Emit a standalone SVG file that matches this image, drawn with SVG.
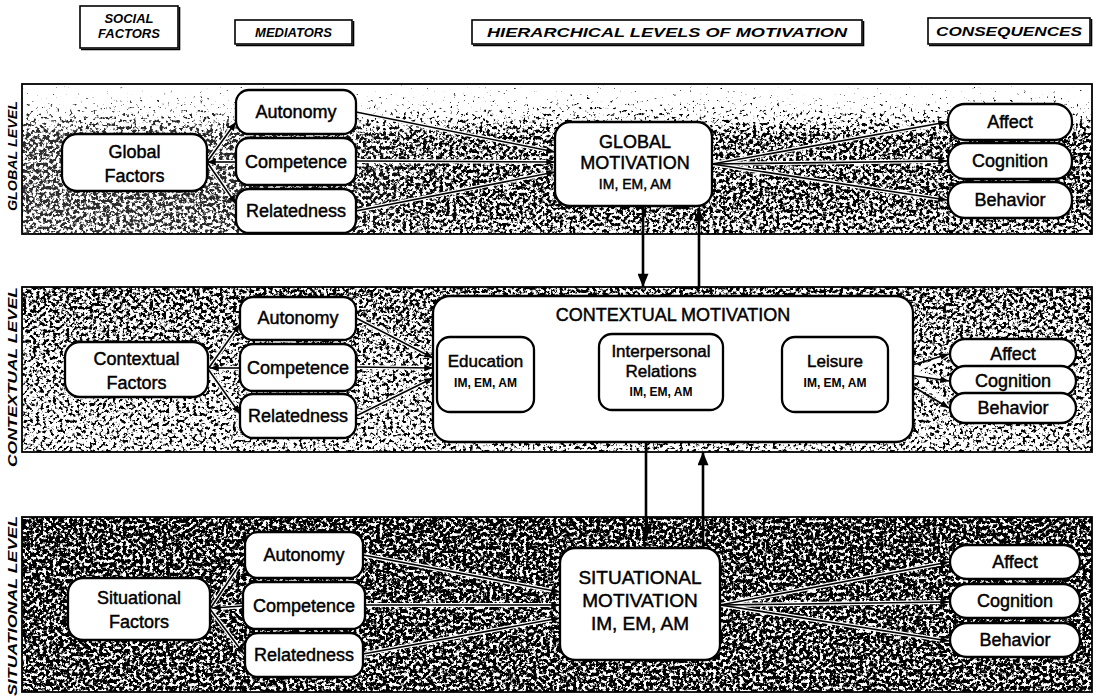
<svg xmlns="http://www.w3.org/2000/svg" width="1102" height="698" viewBox="0 0 1102 698">
  <defs>
    <style>
      .hdr { font-family: "Liberation Sans", Arial, sans-serif; font-weight: bold; font-style: italic; font-size: 13px; fill: #000; text-anchor: middle; }
      .lvl { font-family: "Liberation Sans", Arial, sans-serif; font-weight: bold; font-style: italic; font-size: 13px; fill: #000; text-anchor: middle; }
      .hbox { fill: #fff; stroke: #000; stroke-width: 1.6; }
      .band { fill: none; stroke: #000; stroke-width: 1.8; }
      .node { fill: #fff; stroke: #000; stroke-width: 2.3; }
      .lbl { font-family: "Liberation Sans", Arial, sans-serif; font-size: 18px; fill: #000; stroke: #000; stroke-width: 0.45; text-anchor: middle; }
      .big { font-family: "Liberation Sans", Arial, sans-serif; font-size: 18px; fill: #000; stroke: #000; stroke-width: 0.45; text-anchor: middle; }
      .sub { font-family: "Liberation Sans", Arial, sans-serif; font-weight: bold; font-size: 12px; fill: #000; text-anchor: middle; }
      .halo { fill: none; stroke: #fff; stroke-width: 4; stroke-linecap: round; }
      .ln { fill: none; stroke: #000; stroke-width: 1.6; }
      .thick { fill: none; stroke: #000; stroke-width: 2.6; }
      .dash { fill: none; stroke: #000; stroke-width: 1.6; stroke-dasharray: 4 3; }
    </style>
    <marker id="ah" viewBox="0 0 10 8" refX="10" refY="4" markerWidth="9" markerHeight="7" markerUnits="userSpaceOnUse" orient="auto-start-reverse">
      <path d="M0,0 L10,4 L0,8 z" fill="#000"/>
    </marker>
    <marker id="big" viewBox="0 0 12 10" refX="12" refY="5" markerWidth="14" markerHeight="11" markerUnits="userSpaceOnUse" orient="auto">
      <path d="M0,0 L12,5 L0,10 z" fill="#000"/>
    </marker>
    <!-- speckled halftone shading: density follows the alpha of the source shape -->
    <filter id="grain" filterUnits="userSpaceOnUse" x="0" y="0" width="1102" height="698" color-interpolation-filters="sRGB">
      <feTurbulence type="fractalNoise" baseFrequency="0.3" numOctaves="3" seed="11" result="noise"/>
      <feColorMatrix in="noise" type="matrix" values="0 0 0 0 0  0 0 0 0 0  0 0 0 0 0  1 0 0 0 0" result="na"/>
      <feComposite in="na" in2="SourceAlpha" operator="arithmetic" k1="0" k2="-8" k3="8" k4="0"/>
    </filter>
    <linearGradient id="gGlobal" x1="0" y1="84" x2="0" y2="234" gradientUnits="userSpaceOnUse">
      <stop offset="0" stop-color="#000" stop-opacity="0.22"/>
      <stop offset="0.12" stop-color="#000" stop-opacity="0.30"/>
      <stop offset="0.35" stop-color="#000" stop-opacity="0.56"/>
      <stop offset="0.8" stop-color="#000" stop-opacity="0.57"/>
      <stop offset="1" stop-color="#000" stop-opacity="0.52"/>
    </linearGradient>
    <linearGradient id="gCtx" x1="0" y1="287" x2="0" y2="452" gradientUnits="userSpaceOnUse">
      <stop offset="0" stop-color="#000" stop-opacity="0.56"/>
      <stop offset="0.5" stop-color="#000" stop-opacity="0.5"/>
      <stop offset="1" stop-color="#000" stop-opacity="0.47"/>
    </linearGradient>
    <linearGradient id="gSit" x1="0" y1="517" x2="0" y2="692" gradientUnits="userSpaceOnUse">
      <stop offset="0" stop-color="#000" stop-opacity="0.62"/>
      <stop offset="1" stop-color="#000" stop-opacity="0.6"/>
    </linearGradient>
    <linearGradient id="fadeLeft" x1="22" y1="0" x2="460" y2="0" gradientUnits="userSpaceOnUse">
      <stop offset="0" stop-color="#fff" stop-opacity="0.82"/>
      <stop offset="0.5" stop-color="#fff" stop-opacity="0.85"/>
      <stop offset="1" stop-color="#fff" stop-opacity="1"/>
    </linearGradient>
    <mask id="mGlobal" maskUnits="userSpaceOnUse" x="0" y="0" width="1102" height="698">
      <rect x="22" y="84" width="1070" height="150" fill="url(#fadeLeft)"/>
    </mask>
  </defs>

  <rect width="1102" height="698" fill="#fff"/>

  <!-- column headings -->
  <g id="headings">
    <rect class="hbox" x="80" y="6" width="98" height="42"/>
    <path d="M81,49.5 H179.5 V7" fill="none" stroke="#000" stroke-width="1.6"/>
    <text class="hdr" x="129" y="23">SOCIAL</text>
    <text class="hdr" x="129" y="38">FACTORS</text>

    <rect class="hbox" x="235" y="20" width="117" height="24"/>
    <path d="M236,45.5 H353.5 V21" fill="none" stroke="#000" stroke-width="1.6"/>
    <text class="hdr" x="293.5" y="37">MEDIATORS</text>

    <rect class="hbox" x="472" y="20" width="390" height="24"/>
    <path d="M473,45.5 H863.5 V21" fill="none" stroke="#000" stroke-width="1.6"/>
    <text class="hdr" x="667" y="37" textLength="360" lengthAdjust="spacingAndGlyphs">HIERARCHICAL LEVELS OF MOTIVATION</text>

    <rect class="hbox" x="928" y="18" width="162" height="26"/>
    <path d="M929,45.5 H1091.5 V19" fill="none" stroke="#000" stroke-width="1.6"/>
    <text class="hdr" x="1009" y="36" textLength="146" lengthAdjust="spacingAndGlyphs">CONSEQUENCES</text>
  </g>

  <!-- level bands with halftone shading -->
  <g id="bands">
    <rect x="22" y="84" width="1070" height="150" fill="url(#gGlobal)" mask="url(#mGlobal)" filter="url(#grain)"/>
    <rect x="22" y="287" width="1070" height="165" fill="url(#gCtx)" filter="url(#grain)"/>
    <rect x="22" y="517" width="1070" height="175" fill="url(#gSit)" filter="url(#grain)"/>
    <rect class="band" x="22" y="84" width="1070" height="150"/>
    <rect class="band" x="22" y="287" width="1070" height="165"/>
    <rect class="band" x="22" y="517" width="1070" height="175"/>
    <text class="lvl" transform="translate(17,156) rotate(-90)" textLength="110" lengthAdjust="spacingAndGlyphs">GLOBAL LEVEL</text>
    <text class="lvl" transform="translate(17,377) rotate(-90)" textLength="180" lengthAdjust="spacingAndGlyphs">CONTEXTUAL LEVEL</text>
    <text class="lvl" transform="translate(17,606) rotate(-90)" textLength="180" lengthAdjust="spacingAndGlyphs">SITUATIONAL LEVEL</text>
  </g>

  <!-- connectors -->
  <g id="connectors">
    <!-- global level -->
    <path class="halo" d="M207,162 L236,122 M207,162 L236,162 M207,162 L236,204 M356,112 L555,152 M356,161 L555,162 M356,211 L555,172 M712,164 L947,122 M712,164 L947,161 M712,164 L947,200"/>
    <path class="ln" d="M207,162 L236,122" marker-end="url(#ah)"/>
    <path class="ln" d="M236,162 L207,162" marker-end="url(#ah)"/>
    <path class="ln" d="M207,162 L236,204" marker-end="url(#ah)"/>
    <path class="ln" d="M356,112 L555,152" marker-end="url(#ah)"/>
    <path class="ln" d="M356,161 L555,162" marker-end="url(#ah)"/>
    <path class="ln" d="M356,211 L555,172" marker-end="url(#ah)"/>
    <path class="ln" d="M712,164 L947,122" marker-end="url(#ah)"/>
    <path class="ln" d="M712,164 L947,161" marker-end="url(#ah)"/>
    <path class="ln" d="M712,164 L947,200" marker-end="url(#ah)"/>

    <!-- contextual level -->
    <path class="halo" d="M208,369 L240,324 M208,369 L240,368 M208,369 L240,414 M356,318 L433,358 M356,367 L433,368 M356,416 L433,378 M913,372 L949,354 M913,372 L949,381 M913,372 L949,408"/>
    <path class="ln" d="M208,369 L240,324" marker-end="url(#ah)"/>
    <path class="ln" d="M240,368 L210,368" marker-end="url(#ah)"/>
    <path class="ln" d="M208,369 L240,414" marker-end="url(#ah)"/>
    <path class="ln" d="M356,318 L433,358" marker-end="url(#ah)"/>
    <path class="ln" d="M356,367 L433,368" marker-end="url(#ah)"/>
    <path class="ln" d="M356,416 L433,378" marker-end="url(#ah)"/>
    <path class="ln" d="M889,372 L949,354" marker-end="url(#ah)"/>
    <path class="ln" d="M889,372 L949,381" marker-end="url(#ah)"/>
    <path class="ln" d="M889,372 L949,408" marker-end="url(#ah)"/>
    <path class="dash" d="M535,372 L598,372" marker-start="url(#ah)" marker-end="url(#ah)"/>
    <path class="dash" d="M724,372 L781,372" marker-start="url(#ah)" marker-end="url(#ah)"/>
    <path class="ln" d="M490,412 V432 H836 V412" marker-start="url(#ah)" marker-end="url(#ah)"/>

    <!-- situational level -->
    <path class="halo" d="M210,609 L244,558 M210,609 L243,606 M210,609 L244,654 M363,555 L560,592 M365,605 L560,605 M363,654 L560,618 M720,605 L949,562 M720,605 L949,602 M720,605 L949,641"/>
    <path class="ln" d="M210,609 L244,558" marker-end="url(#ah)"/>
    <path class="ln" d="M243,606 L212,608" marker-end="url(#ah)"/>
    <path class="ln" d="M210,609 L244,654" marker-end="url(#ah)"/>
    <path class="ln" d="M363,555 L560,592" marker-end="url(#ah)"/>
    <path class="ln" d="M365,605 L560,605" marker-end="url(#ah)"/>
    <path class="ln" d="M363,654 L560,618" marker-end="url(#ah)"/>
    <path class="ln" d="M720,605 L949,562" marker-end="url(#ah)"/>
    <path class="ln" d="M720,605 L949,602" marker-end="url(#ah)"/>
    <path class="ln" d="M720,605 L949,641" marker-end="url(#ah)"/>

    <!-- between levels -->
    <path class="thick" d="M643,206 V287" marker-end="url(#big)"/>
    <path class="thick" d="M699,287 V208" marker-end="url(#big)"/>
    <path class="thick" d="M646,442 V540" marker-end="url(#big)"/>
    <path class="thick" d="M703,548 V452" marker-end="url(#big)"/>
  </g>

  <!-- global level nodes -->
  <g id="global-factors">
    <rect class="node" x="62" y="134" width="145" height="57" rx="15"/>
    <text class="lbl" x="134.5" y="158">Global</text>
    <text class="lbl" x="134.5" y="182">Factors</text>
  </g>
  <g id="global-autonomy">
    <rect class="node" x="236" y="90" width="120" height="44" rx="13"/>
    <text class="lbl" x="296" y="118">Autonomy</text>
  </g>
  <g id="global-competence">
    <rect class="node" x="236" y="138" width="120" height="47" rx="13"/>
    <text class="lbl" x="296" y="168">Competence</text>
  </g>
  <g id="global-relatedness">
    <rect class="node" x="236" y="189" width="120" height="44" rx="13"/>
    <text class="lbl" x="296" y="217">Relatedness</text>
  </g>
  <g id="global-motivation">
    <rect class="node" x="555" y="122" width="157" height="84" rx="15"/>
    <text class="big" x="635" y="148">GLOBAL</text>
    <text class="big" x="635" y="169">MOTIVATION</text>
    <text class="lbl" x="635" y="189" style="font-size:14px">IM, EM, AM</text>
  </g>
  <g id="global-affect">
    <rect class="node" x="948" y="104" width="124" height="36" rx="17"/>
    <text class="lbl" x="1010" y="128">Affect</text>
  </g>
  <g id="global-cognition">
    <rect class="node" x="948" y="143" width="124" height="36" rx="17"/>
    <text class="lbl" x="1010" y="167">Cognition</text>
  </g>
  <g id="global-behavior">
    <rect class="node" x="948" y="182" width="124" height="36" rx="17"/>
    <text class="lbl" x="1010" y="206">Behavior</text>
  </g>

  <!-- contextual level nodes -->
  <g id="contextual-factors">
    <rect class="node" x="65" y="342" width="143" height="55" rx="15"/>
    <text class="lbl" x="136.5" y="365">Contextual</text>
    <text class="lbl" x="136.5" y="389">Factors</text>
  </g>
  <g id="contextual-autonomy">
    <rect class="node" x="240" y="297" width="116" height="43" rx="13"/>
    <text class="lbl" x="298" y="324">Autonomy</text>
  </g>
  <g id="contextual-competence">
    <rect class="node" x="240" y="344" width="116" height="47" rx="13"/>
    <text class="lbl" x="298" y="374">Competence</text>
  </g>
  <g id="contextual-relatedness">
    <rect class="node" x="240" y="394" width="116" height="44" rx="13"/>
    <text class="lbl" x="298" y="422">Relatedness</text>
  </g>
  <g id="contextual-motivation">
    <rect class="node" x="433" y="296" width="480" height="146" rx="17"/>
    <text class="big" x="673" y="321">CONTEXTUAL MOTIVATION</text>
  </g>
  <g id="education">
    <rect class="node" x="437" y="337" width="97" height="75" rx="13"/>
    <text class="lbl" x="485.5" y="367" style="font-size:17px">Education</text>
    <text class="sub" x="485.5" y="387">IM, EM, AM</text>
  </g>
  <g id="interpersonal-relations">
    <rect class="node" x="599" y="334" width="124" height="76" rx="13"/>
    <text class="lbl" x="661" y="357" style="font-size:17px">Interpersonal</text>
    <text class="lbl" x="661" y="377" style="font-size:17px">Relations</text>
    <text class="sub" x="661" y="396">IM, EM, AM</text>
  </g>
  <g id="leisure">
    <rect class="node" x="782" y="337" width="106" height="75" rx="13"/>
    <text class="lbl" x="835" y="367" style="font-size:17px">Leisure</text>
    <text class="sub" x="835" y="387">IM, EM, AM</text>
  </g>
  <g id="contextual-affect">
    <rect class="node" x="950" y="339" width="126" height="30" rx="15"/>
    <text class="lbl" x="1013" y="360">Affect</text>
  </g>
  <g id="contextual-cognition">
    <rect class="node" x="950" y="366" width="126" height="30" rx="15"/>
    <text class="lbl" x="1013" y="387">Cognition</text>
  </g>
  <g id="contextual-behavior">
    <rect class="node" x="950" y="393" width="126" height="30" rx="15"/>
    <text class="lbl" x="1013" y="414">Behavior</text>
  </g>

  <!-- situational level nodes -->
  <g id="situational-factors">
    <rect class="node" x="68" y="578" width="142" height="62" rx="15"/>
    <text class="lbl" x="139" y="604">Situational</text>
    <text class="lbl" x="139" y="628">Factors</text>
  </g>
  <g id="situational-autonomy">
    <rect class="node" x="245" y="532" width="118" height="46" rx="13"/>
    <text class="lbl" x="304" y="561">Autonomy</text>
  </g>
  <g id="situational-competence">
    <rect class="node" x="243" y="582" width="122" height="47" rx="13"/>
    <text class="lbl" x="304" y="612">Competence</text>
  </g>
  <g id="situational-relatedness">
    <rect class="node" x="245" y="633" width="118" height="44" rx="13"/>
    <text class="lbl" x="304" y="661">Relatedness</text>
  </g>
  <g id="situational-motivation">
    <rect class="node" x="560" y="548" width="160" height="112" rx="15"/>
    <text class="big" x="640" y="584" style="font-size:19px">SITUATIONAL</text>
    <text class="big" x="640" y="607" style="font-size:19px">MOTIVATION</text>
    <text class="big" x="640" y="630" style="font-size:19px">IM, EM, AM</text>
  </g>
  <g id="situational-affect">
    <rect class="node" x="950" y="545" width="130" height="34" rx="17"/>
    <text class="lbl" x="1015" y="568">Affect</text>
  </g>
  <g id="situational-cognition">
    <rect class="node" x="950" y="584" width="130" height="34" rx="17"/>
    <text class="lbl" x="1015" y="607">Cognition</text>
  </g>
  <g id="situational-behavior">
    <rect class="node" x="950" y="623" width="130" height="34" rx="17"/>
    <text class="lbl" x="1015" y="646">Behavior</text>
  </g>
</svg>
